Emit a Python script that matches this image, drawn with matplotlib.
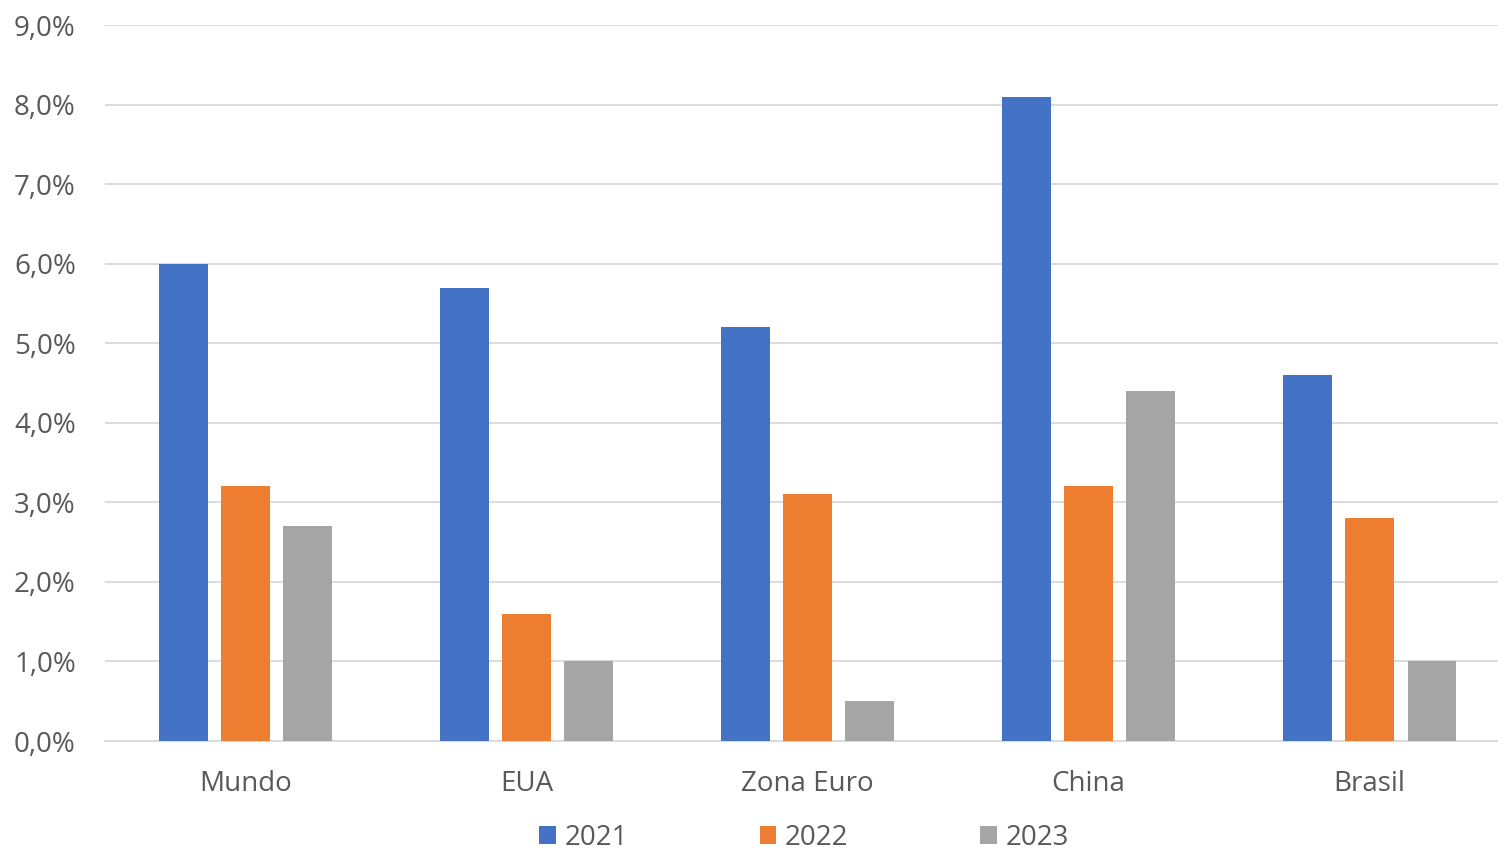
import matplotlib
matplotlib.use("Agg")
import matplotlib.pyplot as plt
import numpy as np
from matplotlib.ticker import FuncFormatter

categories = ["Mundo", "EUA", "Zona Euro", "China", "Brasil"]
series_names = ["2021", "2022", "2023"]
values_2021 = [6.0, 5.7, 5.2, 8.1, 4.6]
values_2022 = [3.2, 1.6, 3.1, 3.2, 2.8]
values_2023 = [2.7, 1.0, 0.5, 4.4, 1.0]
colors = ["#4472C4", "#ED7D31", "#A5A5A5"]

plt.rcParams['font.family'] = ['Open Sans', 'DejaVu Sans']
text_color = "#595959"

fig = plt.figure(figsize=(14.98, 8.55), dpi=100)
ax = fig.add_axes([105 / 1498, 1 - 741 / 855, 1393 / 1498, (741 - 25) / 855])

x = np.arange(len(categories))
bar_w = 0.174
step = 0.222
for i, (vals, name) in enumerate(zip([values_2021, values_2022, values_2023], series_names)):
    ax.bar(x + (i - 1) * step, vals, width=bar_w, color=colors[i], label=name, zorder=3)

ax.set_xlim(-0.5, 4.457)
ax.set_ylim(0, 9)
ax.set_yticks(np.arange(0, 10, 1))
ax.yaxis.set_major_formatter(FuncFormatter(lambda v, p: f"{v:.1f}%".replace(".", ",")))
ax.set_xticks(x)
ax.set_xticklabels(categories)
ax.grid(axis="y", color="#D9D9D9", linewidth=1.3, zorder=0)
for s in ["top", "right", "left"]:
    ax.spines[s].set_visible(False)
ax.spines["bottom"].set_color("#D9D9D9")
ax.spines["bottom"].set_linewidth(1.3)
ax.tick_params(axis="both", length=0, labelsize=20, labelcolor=text_color)
ax.tick_params(axis="x", pad=21)
ax.tick_params(axis="y", pad=21)

handles, labels = ax.get_legend_handles_labels()
fig.legend(handles, labels, loc="center", bbox_to_anchor=(804 / 1498, 1 - 838 / 855),
           ncol=3, frameon=False, fontsize=20, handlelength=0.6, handleheight=0.6,
           handletextpad=0.3, columnspacing=4.75, labelcolor=text_color,
           borderpad=0, borderaxespad=0)

fig.savefig("out.png", dpi=100)
